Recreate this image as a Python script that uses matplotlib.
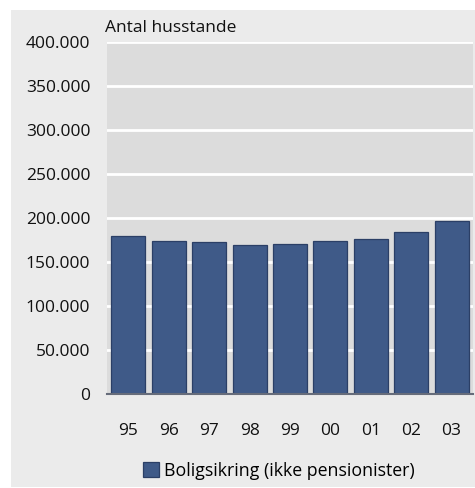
import matplotlib
matplotlib.use("Agg")
import matplotlib.pyplot as plt
from matplotlib.patches import Rectangle

categories = ["95", "96", "97", "98", "99", "00", "01", "02", "03"]
values = [179000, 173500, 172400, 169700, 170100, 173500, 175800, 184000, 196600]
yticks = [0, 50000, 100000, 150000, 200000, 250000, 300000, 350000, 400000]
ytick_labels = ["0", "50.000", "100.000", "150.000", "200.000", "250.000", "300.000", "350.000", "400.000"]
series_name = "Boligsikring (ikke pensionister)"
y_title = "Antal husstande"

plt.rcParams['font.family'] = ['Open Sans', 'DejaVu Sans']

W, H = 475, 488
fig = plt.figure(figsize=(W / 100, H / 100), dpi=100, facecolor="white")
fig.patches.append(Rectangle((11 / W, 1 / H), 1 - 11 / W, 1 - 11 / H, transform=fig.transFigure,
                             facecolor="#ebebeb", edgecolor="none", zorder=-10))

left, right = 107, 473
top, bottom = 42, 394
ax = fig.add_axes([left / W, 1 - bottom / H, (right - left) / W, (bottom - top) / H])
ax.set_facecolor("#dcdcdc")
x = range(len(categories))
ax.bar(x, values, width=0.84, color="#3f5a88", edgecolor="#2b3f66", linewidth=0.9,
       label=series_name, zorder=3)
ax.set_xlim(-0.53, len(categories) - 0.47)
ax.set_ylim(0, 400000)
ax.set_yticks(yticks)
ax.set_yticklabels(ytick_labels)
ax.set_xticks(list(x))
ax.set_xticklabels(categories)
ax.grid(axis="y", color="white", linewidth=2.0, zorder=1)
ax.set_axisbelow(True)
for s in ["top", "right", "left"]:
    ax.spines[s].set_visible(False)
ax.spines["bottom"].set_color("#666c7a")
ax.spines["bottom"].set_linewidth(1.5)
ax.spines["bottom"].set_zorder(4)
ax.tick_params(axis="both", length=0, labelsize=12.5, colors="#111111")
ax.tick_params(axis="y", pad=12)
ax.tick_params(axis="x", pad=21)

fig.text(105 / W, 1 - 28 / H, y_title, fontsize=12.5, ha="left", va="center", color="#111111")

leg = fig.legend(loc="center", bbox_to_anchor=(279 / W, 1 - 471 / H), frameon=False,
                 fontsize=12.8, handlelength=0.9, handleheight=0.9, handletextpad=0.3)

fig.savefig("out.png", dpi=100, facecolor="white")
